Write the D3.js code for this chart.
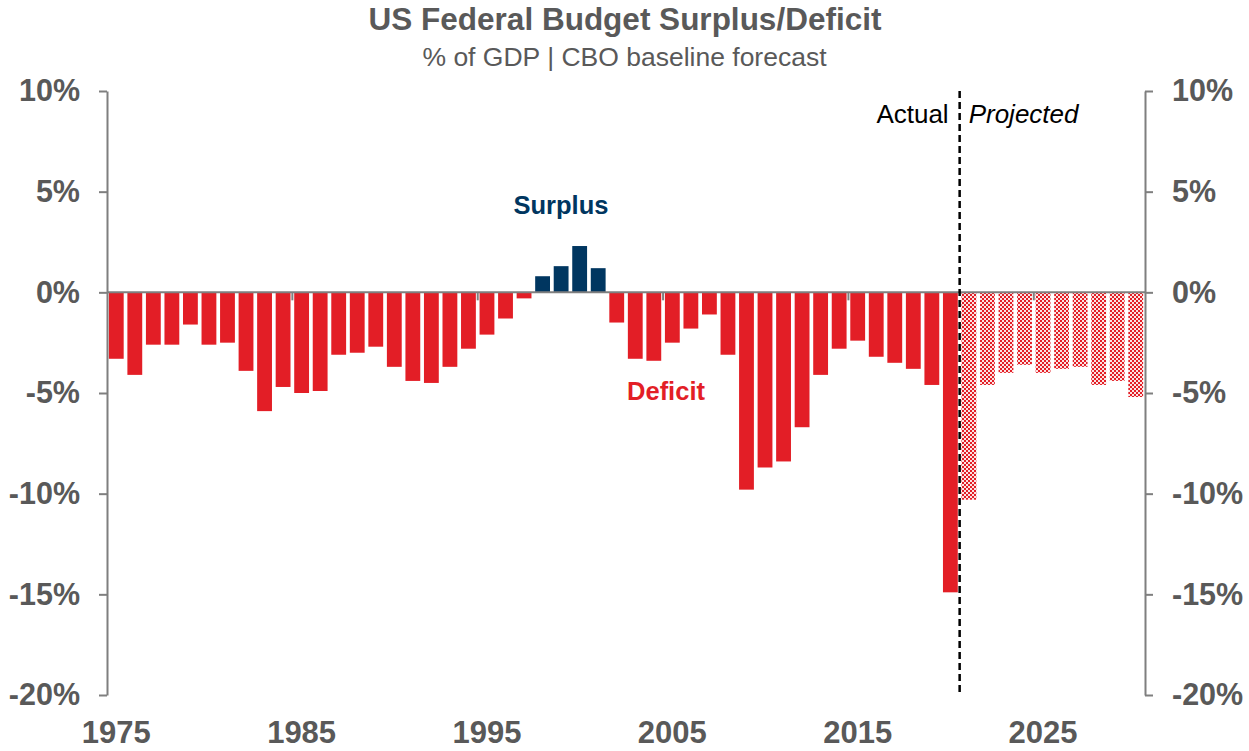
<!DOCTYPE html>
<html>
<head>
<meta charset="utf-8">
<script src="https://cdn.jsdelivr.net/npm/d3@7"></script>
<style>
  html, body { margin: 0; padding: 0; background: #fff; }
  svg { display: block; font-family: "Liberation Sans", Arial, sans-serif; }
</style>
</head>
<body>
<svg id="chart" width="1249" height="751"></svg>
<script>
// Fiscal years and budget balance (% of GDP)
const actualYears = d3.range(1975, 2021);
const actualValues = [
  -3.3, -4.1, -2.6, -2.6, -1.6, -2.6, -2.5, -3.9, -5.9, -4.7,
  -5.0, -4.9, -3.1, -3.0, -2.7, -3.7, -4.4, -4.5, -3.7, -2.8,
  -2.1, -1.3, -0.3, 0.8, 1.3, 2.3, 1.2, -1.5, -3.3, -3.4,
  -2.5, -1.8, -1.1, -3.1, -9.8, -8.7, -8.4, -6.7, -4.1, -2.8,
  -2.4, -3.2, -3.5, -3.8, -4.6, -14.9
];
const projectedYears = d3.range(2021, 2031);
const projectedValues = [-10.3, -4.6, -4.0, -3.6, -4.0, -3.8, -3.7, -4.6, -4.4, -5.2];

const yTicks = [10, 5, 0, -5, -10, -15, -20];
const decadeLabels = [1975, 1985, 1995, 2005, 2015, 2025];
const decadeTicks = [1985, 1995, 2005, 2015, 2025];

const RED = "#e31e26";
const NAVY = "#003660";
const GREY = "#595959";
const AXIS = "#7f7f7f";

const svg = d3.select("#chart");

const plotLeft = 107, plotRight = 1145, plotTop = 91, plotBottom = 695;

const allYears = actualYears.concat(projectedYears);
const x = d3.scaleBand()
  .domain(allYears)
  .range([plotLeft, plotRight])
  .paddingInner(0.2)
  .paddingOuter(0.1);
const gap = x.step() * x.paddingInner() / 2;

const y = d3.scaleLinear().domain([-20, 10]).range([plotBottom, plotTop]);

// checkered fill for projected years
const defs = svg.append("defs");
const pat = defs.append("pattern")
  .attr("id", "checker")
  .attr("patternUnits", "userSpaceOnUse")
  .attr("width", 4).attr("height", 4);
pat.append("rect").attr("width", 4).attr("height", 4).attr("fill", "#fbe3e3");
pat.append("rect").attr("x", 0).attr("y", 0).attr("width", 2).attr("height", 2).attr("fill", RED);
pat.append("rect").attr("x", 2).attr("y", 2).attr("width", 2).attr("height", 2).attr("fill", RED);

// Title
svg.append("text")
  .attr("x", 625).attr("y", 30)
  .attr("text-anchor", "middle")
  .attr("font-size", 31.5).attr("font-weight", "bold")
  .attr("fill", GREY)
  .text("US Federal Budget Surplus/Deficit");
svg.append("text")
  .attr("x", 624.5).attr("y", 66)
  .attr("text-anchor", "middle")
  .attr("font-size", 26.5)
  .attr("fill", GREY)
  .text("% of GDP | CBO baseline forecast");

// Bars
const actual = actualYears.map((yr, i) => ({ year: yr, value: actualValues[i] }));
const projected = projectedYears.map((yr, i) => ({ year: yr, value: projectedValues[i] }));

svg.append("g").selectAll("rect")
  .data(actual)
  .join("rect")
  .attr("x", d => x(d.year))
  .attr("width", x.bandwidth())
  .attr("y", d => y(Math.max(0, d.value)))
  .attr("height", d => Math.abs(y(d.value) - y(0)))
  .attr("fill", d => d.value >= 0 ? NAVY : RED);

svg.append("g").selectAll("rect")
  .data(projected)
  .join("rect")
  .attr("x", d => x(d.year))
  .attr("width", x.bandwidth())
  .attr("y", d => y(Math.max(0, d.value)))
  .attr("height", d => Math.abs(y(d.value) - y(0)))
  .attr("fill", "url(#checker)");

// Zero line with decade ticks
svg.append("line")
  .attr("x1", plotLeft).attr("x2", plotRight)
  .attr("y1", y(0)).attr("y2", y(0))
  .attr("stroke", AXIS).attr("stroke-width", 2);
svg.append("g").selectAll("line")
  .data(decadeTicks)
  .join("line")
  .attr("x1", d => x(d) - gap).attr("x2", d => x(d) - gap)
  .attr("y1", y(0)).attr("y2", y(0) + 8)
  .attr("stroke", AXIS).attr("stroke-width", 2);

// Left and right value axes
const fmt = d => d + "%";
const leftAxis = svg.append("g")
  .attr("transform", `translate(${plotLeft},0)`)
  .call(d3.axisLeft(y).tickValues(yTicks).tickFormat(fmt).tickSize(8).tickSizeOuter(0).tickPadding(19));
const rightAxis = svg.append("g")
  .attr("transform", `translate(${plotRight},0)`)
  .call(d3.axisRight(y).tickValues(yTicks).tickFormat(fmt).tickSize(8).tickSizeOuter(0).tickPadding(19));
[leftAxis, rightAxis].forEach(g => {
  g.select(".domain").attr("stroke", AXIS).attr("stroke-width", 2);
  g.selectAll(".tick line").attr("stroke", AXIS).attr("stroke-width", 2);
  g.selectAll(".tick text")
    .attr("fill", GREY)
    .attr("font-size", 30.5)
    .attr("font-weight", "bold")
    .attr("font-family", "'Liberation Sans', Arial, sans-serif");
});

// Year labels along the bottom
const xAxis = svg.append("g")
  .attr("transform", `translate(0,${plotBottom})`)
  .call(d3.axisBottom(x).tickValues(decadeLabels).tickSize(0).tickPadding(26));
xAxis.select(".domain").remove();
xAxis.selectAll(".tick text")
  .attr("fill", GREY)
  .attr("font-size", 31)
  .attr("font-weight", "bold")
  .attr("font-family", "'Liberation Sans', Arial, sans-serif");

// Actual / projected divider
const divX = x(2021) - gap;
svg.append("line")
  .attr("x1", divX).attr("x2", divX)
  .attr("y1", plotTop).attr("y2", plotBottom)
  .attr("stroke", "#000").attr("stroke-width", 2.5)
  .attr("stroke-dasharray", "7,4");
svg.append("text")
  .attr("x", divX - 11).attr("y", 123)
  .attr("text-anchor", "end")
  .attr("font-size", 26)
  .attr("fill", "#000")
  .text("Actual");
svg.append("text")
  .attr("x", divX + 9).attr("y", 123)
  .attr("font-size", 26)
  .attr("font-style", "italic")
  .attr("fill", "#000")
  .text("Projected");

// Series annotations
svg.append("text")
  .attr("x", 561).attr("y", 214)
  .attr("text-anchor", "middle")
  .attr("font-size", 25.5).attr("font-weight", "bold")
  .attr("fill", NAVY)
  .text("Surplus");
svg.append("text")
  .attr("x", 666).attr("y", 400)
  .attr("text-anchor", "middle")
  .attr("font-size", 25.5).attr("font-weight", "bold")
  .attr("fill", RED)
  .text("Deficit");
</script>
</body>
</html>
